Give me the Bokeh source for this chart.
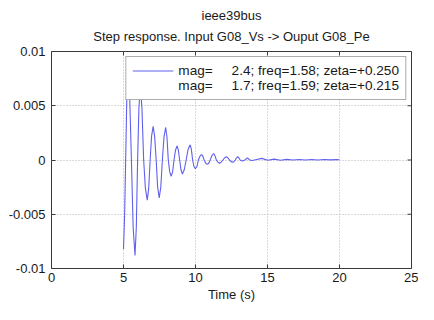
from bokeh.plotting import figure
from bokeh.models import (FixedTicker, LinearAxis, Legend, LegendItem, Title,
                          Range1d, ColumnDataSource, Grid)
from bokeh.embed import file_html
from bokeh.resources import INLINE

# ---------------- data ----------------
title_lines = ["ieee39bus", "Step response. Input G08_Vs -> Ouput G08_Pe"]
x_label = "Time (s)"
x_ticks = [0, 5, 10, 15, 20, 25]
x_tick_labels = ["0", "5", "10", "15", "20", "25"]
y_ticks = [-0.01, -0.005, 0, 0.005, 0.01]
y_tick_labels = ["-0.01", "-0.005", "0", "0.005", "0.01"]
legend_labels = [
    "mag=\u00a0\u00a0\u00a0\u00a0\u00a02.4; freq=1.58; zeta=+0.250",
    "mag=\u00a0\u00a0\u00a0\u00a0\u00a01.7; freq=1.59; zeta=+0.215",
]

time_s = [5.00, 5.08, 5.15, 5.23, 5.31, 5.43, 5.55, 5.67, 5.80, 5.89,
          5.98, 6.07, 6.17, 6.28, 6.40, 6.52, 6.65, 6.75, 6.85, 6.95,
          7.06, 7.16, 7.27, 7.37, 7.48, 7.59, 7.70, 7.81, 7.93, 8.02,
          8.11, 8.21, 8.31, 8.41, 8.51, 8.61, 8.72, 8.81, 8.90, 8.99,
          9.09, 9.22, 9.35, 9.49, 9.63, 9.71, 9.80, 9.89, 9.99, 10.10,
          10.20, 10.31, 10.42, 10.51, 10.60, 10.71, 10.82, 10.92, 11.02, 11.14,
          11.26, 11.35, 11.45, 11.55, 11.66, 11.78, 11.90, 12.02, 12.14, 12.25,
          12.36, 12.47, 12.59, 12.67, 12.76, 12.85, 12.93, 13.01, 13.10, 13.26,
          13.43, 13.60, 13.77, 13.93, 14.25, 14.60, 15.03, 15.46, 15.90, 16.33,
          16.77, 17.20, 17.63, 18.07, 18.50, 18.93, 19.37, 19.80, 20.00]
response = [-0.0082, -0.0050, 0.0, 0.0058, 0.0082, 0.0058, 0.0, -0.0062, -0.0088, -0.0062,
            0.0, 0.0048, 0.0068, 0.0048, 0.0, -0.0026, -0.0037, -0.0026, 0.0, 0.0022,
            0.0031, 0.0022, 0.0, -0.0025, -0.0035, -0.0025, 0.0, 0.0021, 0.0030, 0.0021,
            0.0, -0.0011, -0.0015, -0.0011, 0.0, 0.0009, 0.0013, 0.0009, 0.0, -0.0009,
            -0.0013, -0.0009, 0.0, 0.0010, 0.0014, 0.0010, 0.0, -0.0006, -0.0008, -0.0006,
            0.0, 0.00035, 0.0005, 0.00035, 0.0, -0.0003, -0.0004, -0.0003, 0.0, 0.0004,
            0.0006, 0.0004, 0.0, -0.0002, -0.0003, -0.0002, 0.0, 0.0002, 0.0003, 0.0002,
            0.0, -0.00015, -0.0002, -0.00015, 0.0, 0.0002, 0.0003, 0.0002, 0.0, -0.0001,
            0.0, 0.0002, 0.0, -0.00005, 0.00005, 0.00015, -0.00003, 0.00008, -0.00002, 0.00006,
            0.0, 0.00005, 0.0, 0.00004, 0.0, 0.00004, 0.00001, 0.00003, 0.00002]

# ---------------- styling ----------------
FONT = "Liberation Sans"
TXT = "#1a1a1a"
LINE = "#6060ee"
FRAME = "#3a3a3a"
W, H = 418, 304
BL, BR, BT, BB = 51, 7, 51, 34
X0, X1 = 0, 25
Y0, Y1 = -0.01, 0.01

p = figure(width=W, height=H, output_backend="svg", toolbar_location=None,
           x_range=Range1d(X0, X1), y_range=Range1d(Y0, Y1),
           min_border_left=BL, min_border_right=BR, min_border_top=BT,
           min_border_bottom=BB, outline_line_color=FRAME,
           background_fill_color="white", border_fill_color="white")
p.xaxis.visible = False
p.yaxis.visible = False
p.xgrid.visible = False
p.ygrid.visible = False

def style_axis(ax, ticks, labels, standoff):
    ax.ticker = FixedTicker(ticks=ticks)
    ax.major_label_overrides = {t: l for t, l in zip(ticks, labels)}
    ax.major_tick_in = 4
    ax.major_tick_out = 0
    ax.minor_tick_line_color = None
    ax.axis_line_color = None
    ax.major_tick_line_color = FRAME
    ax.major_label_text_font = FONT
    ax.major_label_text_color = TXT
    ax.major_label_text_font_size = "13px"
    ax.major_label_standoff = standoff

xb = LinearAxis(axis_label=x_label)
style_axis(xb, x_ticks, x_tick_labels, 4)
xb.axis_label_text_font = FONT
xb.axis_label_text_font_size = "13px"
xb.axis_label_text_font_style = "normal"
xb.axis_label_text_color = TXT
xb.axis_label_standoff = 2
p.add_layout(xb, "below")

yl = LinearAxis()
style_axis(yl, y_ticks, y_tick_labels, 6)
p.add_layout(yl, "left")

# grid
p.add_layout(Grid(dimension=0, ticker=FixedTicker(ticks=x_ticks),
                  grid_line_color="#b4b4b4", grid_line_dash="1 2"))
p.add_layout(Grid(dimension=1, ticker=FixedTicker(ticks=y_ticks),
                  grid_line_color="#b4b4b4", grid_line_dash="1 2"))

# tick marks on the top and right edges of the box (inward)
fw = W - BL - BR
fh = H - BT - BB
dy = 4 * (Y1 - Y0) / fh
dx = 4 * (X1 - X0) / fw
p.segment(x0=x_ticks, y0=[Y1] * len(x_ticks), x1=x_ticks, y1=[Y1 - dy] * len(x_ticks),
          line_color=FRAME, line_width=1)
p.segment(x0=[X1] * len(y_ticks), y0=y_ticks, x1=[X1 - dx] * len(y_ticks), y1=y_ticks,
          line_color=FRAME, line_width=1)

src = ColumnDataSource(dict(t=time_s, v=response))
r1 = p.line("t", "v", source=src, line_color=LINE, line_width=1.1)
r2 = p.line(x=[], y=[], line_color="white", line_alpha=0, line_width=1.1)

leg = Legend(items=[LegendItem(label=legend_labels[0], renderers=[r1]),
                    LegendItem(label=legend_labels[1], renderers=[r2])],
             location="top_right", margin=5, padding=6, spacing=0,
             glyph_width=41, glyph_height=13, label_height=13,
             label_standoff=5,
             label_text_font=FONT, label_text_font_size="13.6px",
             label_text_color=TXT, border_line_color="#5a5a5a",
             border_line_width=1, background_fill_color="white",
             background_fill_alpha=1.0)
p.add_layout(leg, "center")

# titles (line 2 nearest the frame, line 1 above it)
for txt, so, va in zip(reversed(title_lines), [12, 0], ["top", "bottom"]):
    p.add_layout(Title(text=txt, align="center", text_font=FONT,
                       text_font_size="13px", text_font_style="normal",
                       text_color=TXT, standoff=so, offset=0,
                       vertical_align=va), "above")

open("out.html", "w").write(file_html(p, INLINE))
